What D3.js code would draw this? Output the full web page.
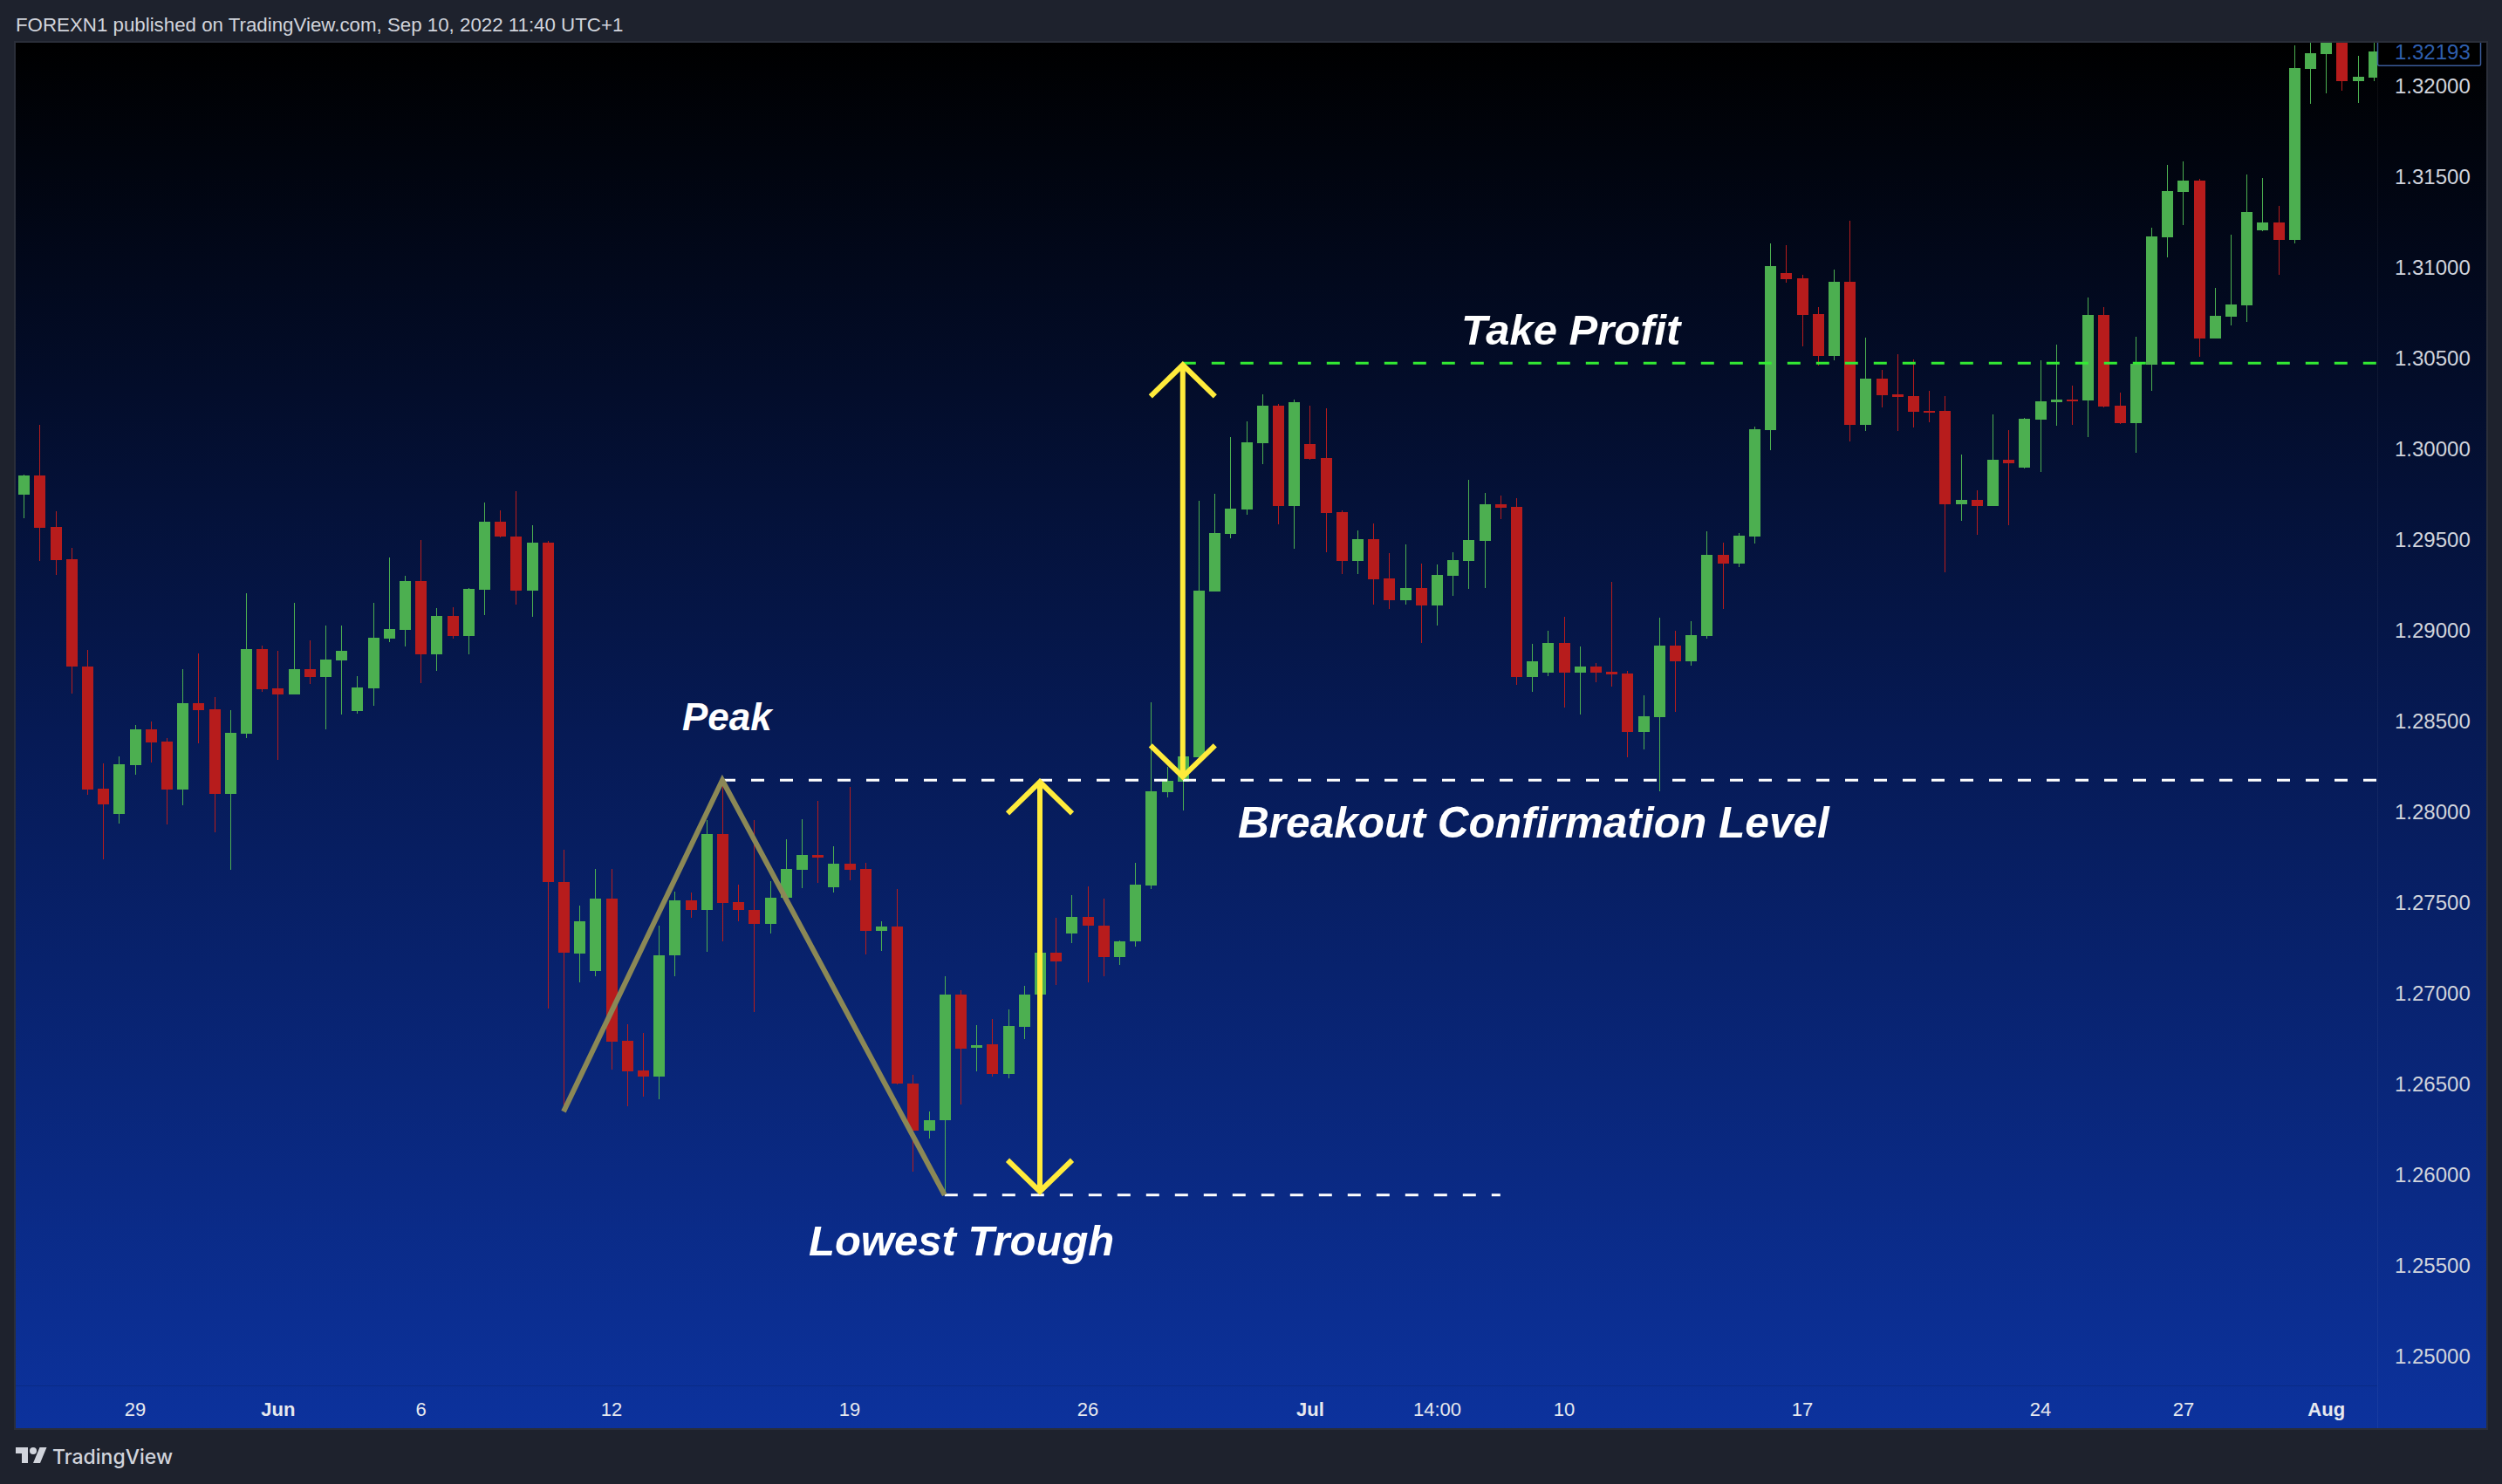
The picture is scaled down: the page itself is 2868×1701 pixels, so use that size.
<!DOCTYPE html>
<html><head><meta charset="utf-8">
<script src="https://cdnjs.cloudflare.com/ajax/libs/d3/7.8.5/d3.min.js"></script>
<style>html,body{margin:0;padding:0;background:#1e222d;overflow:hidden}</style>
</head><body>
<script>
// ---- DATA (GBPUSD-like 8H candles) ----
const opens = [1.29753,1.29858,1.29574,1.29396,1.28803,1.28132,1.27994,1.28262,1.28457,1.28391,
1.28128,1.28603,1.28568,1.28104,1.28435,1.28901,1.28684,1.28652,1.28790,1.28748,
1.28840,1.28557,1.28686,1.28960,1.29008,1.29276,1.28873,1.29083,1.28974,1.29228,
1.29602,1.29521,1.29225,1.29486,1.27618,1.27224,1.27125,1.27526,1.26742,1.26578,
1.26546,1.27211,1.27516,1.27461,1.27881,1.27506,1.27464,1.27388,1.27529,1.27683,
1.27766,1.27586,1.27717,1.27688,1.27349,1.27373,1.26505,1.26249,1.26302,1.26998,
1.26703,1.26724,1.26557,1.26820,1.26998,1.27227,1.27331,1.27425,1.27375,1.27201,
1.27289,1.27599,1.28114,1.28171,1.28306,1.29220,1.29536,1.29671,1.30036,1.30241,
1.29690,1.30030,1.29952,1.29656,1.29388,1.29506,1.29289,1.29171,1.29238,1.29139,
1.29306,1.29388,1.29499,1.29699,1.29685,1.28749,1.28773,1.28935,1.28773,1.28805,
1.28776,1.28766,1.28446,1.28527,1.28920,1.28835,1.28975,1.29420,1.29374,1.29523,
1.30108,1.30973,1.30944,1.30747,1.30518,1.30925,1.30136,1.30391,1.30305,1.30295,
1.30215,1.30213,1.29699,1.29723,1.29689,1.29944,1.29901,1.30165,1.30261,1.30276,
1.30272,1.30742,1.30242,1.30147,1.30469,1.31170,1.31420,1.31482,1.30613,1.30734,
1.30796,1.31210,1.31252,1.31157,1.32097,1.32179,1.32250,1.32032,1.32051];
const highs = [1.29863,1.30136,1.29661,1.29458,1.28895,1.28270,1.28308,1.28481,1.28502,1.28410,
1.28790,1.28877,1.28636,1.28564,1.29208,1.28919,1.28892,1.29155,1.28949,1.29030,
1.29030,1.28752,1.29155,1.29405,1.29304,1.29501,1.29127,1.29131,1.29238,1.29709,
1.29664,1.29771,1.29584,1.29495,1.27795,1.27487,1.27688,1.27688,1.26833,1.26784,
1.27375,1.27566,1.27560,1.27957,1.28178,1.27602,1.27957,1.27623,1.27852,1.27962,
1.28063,1.27813,1.28139,1.27722,1.27401,1.27579,1.26554,1.26354,1.27096,1.27023,
1.26828,1.26862,1.26914,1.27044,1.27300,1.27422,1.27545,1.27592,1.27524,1.27297,
1.27721,1.28605,1.28253,1.28330,1.29718,1.29757,1.30068,1.30156,1.30304,1.30250,
1.30277,1.30241,1.30228,1.29663,1.29555,1.29593,1.29430,1.29477,1.29371,1.29367,
1.29435,1.29834,1.29761,1.29747,1.29733,1.28930,1.29002,1.29079,1.28915,1.28824,
1.29271,1.28781,1.28646,1.29074,1.29002,1.29055,1.29550,1.29487,1.29540,1.30125,
1.31136,1.31127,1.30963,1.30785,1.30992,1.31261,1.30617,1.30439,1.30526,1.30497,
1.30324,1.30295,1.29973,1.29776,1.30194,1.30108,1.30175,1.30492,1.30579,1.30353,
1.30838,1.30785,1.30314,1.30621,1.31222,1.31569,1.31588,1.31490,1.30891,1.31184,
1.31516,1.31497,1.31343,1.32227,1.32290,1.32300,1.32300,1.32170,1.32260];
const lows = [1.29624,1.29388,1.29311,1.28656,1.28099,1.27744,1.27940,1.28209,1.28277,1.27935,
1.28042,1.28382,1.27893,1.27686,1.28411,1.28667,1.28292,1.28650,1.28710,1.28456,
1.28542,1.28546,1.28590,1.28941,1.28917,1.28715,1.28778,1.28960,1.28873,1.29090,
1.29517,1.29147,1.29076,1.26919,1.26367,1.27065,1.27096,1.26583,1.26380,1.26432,
1.26419,1.27096,1.27422,1.27232,1.27292,1.27401,1.26901,1.27331,1.27520,1.27581,
1.27610,1.27560,1.27628,1.27219,1.27235,1.26500,1.26023,1.26205,1.25892,1.26393,
1.26575,1.26544,1.26536,1.26750,1.26950,1.27050,1.27279,1.27065,1.27096,1.27162,
1.27260,1.27576,1.28082,1.28013,1.28300,1.29220,1.29513,1.29639,1.29922,1.29589,
1.29454,1.29945,1.29435,1.29316,1.29316,1.29148,1.29124,1.29148,1.28932,1.29032,
1.29196,1.29234,1.29239,1.29619,1.28701,1.28667,1.28753,1.28576,1.28542,1.28720,
1.28696,1.28306,1.28350,1.28116,1.28552,1.28811,1.28960,1.29124,1.29354,1.29484,
1.29999,1.30922,1.30571,1.30463,1.30492,1.30045,1.30103,1.30233,1.30103,1.30122,
1.30151,1.29324,1.29608,1.29531,1.29689,1.29584,1.29896,1.29877,1.30131,1.30136,
1.30070,1.30230,1.30140,1.29984,1.30325,1.31059,1.31237,1.30513,1.30610,1.30686,
1.30705,1.31205,1.30965,1.31138,1.31907,1.31964,1.31979,1.31912,1.32032];
const closes = [1.29858,1.29571,1.29392,1.28802,1.28128,1.28047,1.28266,1.28457,1.28388,1.28128,
1.28603,1.28566,1.28104,1.28439,1.28901,1.28680,1.28652,1.28790,1.28748,1.28842,
1.28890,1.28689,1.28963,1.29011,1.29276,1.28873,1.29083,1.28974,1.29232,1.29602,
1.29519,1.29225,1.29488,1.27615,1.27227,1.27401,1.27526,1.26739,1.26575,1.26546,
1.27214,1.27516,1.27461,1.27881,1.27503,1.27461,1.27388,1.27529,1.27688,1.27766,
1.27753,1.27717,1.27683,1.27349,1.27373,1.26505,1.26249,1.26302,1.26998,1.26700,
1.26719,1.26557,1.26823,1.26998,1.27227,1.27177,1.27425,1.27375,1.27201,1.27289,
1.27603,1.28116,1.28175,1.28310,1.29222,1.29540,1.29675,1.30040,1.30241,1.29690,
1.30260,1.29950,1.29652,1.29388,1.29506,1.29287,1.29171,1.29238,1.29139,1.29310,
1.29391,1.29502,1.29699,1.29681,1.28749,1.28834,1.28935,1.28773,1.28805,1.28773,
1.28763,1.28446,1.28531,1.28920,1.28835,1.28978,1.29420,1.29374,1.29526,1.30112,
1.31011,1.30941,1.30742,1.30518,1.30925,1.30136,1.30391,1.30300,1.30290,1.30209,
1.30209,1.29699,1.29723,1.29689,1.29944,1.29925,1.30170,1.30266,1.30276,1.30271,
1.30742,1.30238,1.30147,1.30472,1.31174,1.31424,1.31482,1.30613,1.30737,1.30799,
1.31309,1.31252,1.31157,1.32102,1.32184,1.32270,1.32032,1.32054,1.32193];

const priceTicks = [1.25,1.255,1.26,1.265,1.27,1.275,1.28,1.285,1.29,1.295,1.30,1.305,1.31,1.315,1.32];
const timeTickIdx = [7,16,25,37,52,67,81,89,97,112,127,136,145];
const timeTickLabels = ["29","Jun","6","12","19","26","Jul","14:00","10","17","24","27","Aug"];
const monthLabels = ["Jun","Jul","Aug"];
const lastPrice = 1.32193;

// pattern annotation points (candle index, price)
const zigzagIdx = [34, 44, 58];
const zigzagPrice = [1.26352, 1.28178, 1.25892];
const breakoutLevel = 1.28178;
const troughLevel = 1.25892;
const takeProfitLevel = 1.30476;
const arrowIdx = [64, 73];
const arrowFrom = [1.28178, 1.30476];
const arrowTo = [1.25892, 1.28178];

// ---- LAYOUT ----
const W = 2868, H = 1701;
const panel = {x0: 18, y0: 49, x1: 2850, y1: 1637};
const plotRight = 2725, plotBottom = 1588;

const svg = d3.select("body").append("svg").attr("width", W).attr("height", H)
  .style("display","block");

const defs = svg.append("defs");
const grad = defs.append("linearGradient").attr("id","bg").attr("x1",0).attr("y1",0).attr("x2",0).attr("y2",1);
grad.append("stop").attr("offset","0%").attr("stop-color","#000000");
grad.append("stop").attr("offset","50%").attr("stop-color","#061a55");
grad.append("stop").attr("offset","100%").attr("stop-color","#0c329d");
defs.append("clipPath").attr("id","plotClip").append("rect")
  .attr("x", panel.x0).attr("y", panel.y0).attr("width", plotRight - panel.x0).attr("height", plotBottom - panel.y0);
defs.append("clipPath").attr("id","panelClip").append("rect")
  .attr("x", panel.x0).attr("y", panel.y0).attr("width", panel.x1 - panel.x0).attr("height", panel.y1 - panel.y0);

svg.append("rect").attr("width", W).attr("height", H).attr("fill", "#1e222d");
svg.append("rect").attr("x", panel.x0).attr("y", panel.y0)
  .attr("width", panel.x1 - panel.x0).attr("height", panel.y1 - panel.y0)
  .attr("fill", "url(#bg)");

// separators
svg.append("line").attr("x1", plotRight + 0.5).attr("x2", plotRight + 0.5).attr("y1", panel.y0).attr("y2", panel.y1)
  .attr("stroke", "rgba(255,255,255,0.05)").attr("stroke-width", 1);
svg.append("line").attr("x1", panel.x0).attr("x2", plotRight).attr("y1", plotBottom + 0.5).attr("y2", plotBottom + 0.5)
  .attr("stroke", "rgba(0,0,0,0.12)").attr("stroke-width", 1);

// scales
const x = d3.scaleLinear().domain([0, 148]).range([27.2, 2720.8]);
const y = d3.scaleLinear().domain([1.25, 1.32]).range([1555.3, 99.3]);

const candles = opens.map((o, i) => ({i, o, h: highs[i], l: lows[i], c: closes[i]}));
const green = "#4caf50", red = "#b71c1c";
const bodyW = 13;

const plot = svg.append("g").attr("clip-path", "url(#plotClip)");
const cg = plot.append("g").attr("shape-rendering", "crispEdges");
cg.selectAll("rect.wick").data(candles).join("rect").attr("class","wick")
  .attr("x", d => Math.round(x(d.i)))
  .attr("width", 1)
  .attr("y", d => y(d.h))
  .attr("height", d => Math.max(1, y(d.l) - y(d.h)))
  .attr("fill", d => d.c >= d.o ? green : red);
cg.selectAll("rect.body").data(candles).join("rect").attr("class","body")
  .attr("x", d => Math.round(x(d.i)) - 6)
  .attr("width", bodyW)
  .attr("y", d => y(Math.max(d.o, d.c)))
  .attr("height", d => Math.max(2, Math.abs(y(d.o) - y(d.c))))
  .attr("fill", d => d.c >= d.o ? green : red);

// dashed levels
const dash = "15,18";
plot.append("line").attr("x1", x(zigzagIdx[1])).attr("x2", plotRight)
  .attr("y1", y(breakoutLevel)).attr("y2", y(breakoutLevel))
  .attr("stroke", "#ffffff").attr("stroke-width", 3).attr("stroke-dasharray", dash);
plot.append("line").attr("x1", x(zigzagIdx[2])).attr("x2", x(93))
  .attr("y1", y(troughLevel)).attr("y2", y(troughLevel))
  .attr("stroke", "#ffffff").attr("stroke-width", 3).attr("stroke-dasharray", dash);
plot.append("line").attr("x1", x(arrowIdx[1])).attr("x2", plotRight)
  .attr("y1", y(takeProfitLevel)).attr("y2", y(takeProfitLevel))
  .attr("stroke", "#33ea33").attr("stroke-width", 3).attr("stroke-dasharray", dash);

// zigzag
const zz = zigzagIdx.map((d, k) => [x(d), y(zigzagPrice[k])]);
plot.append("path").attr("d", d3.line()(zz)).attr("fill","none")
  .attr("stroke", "#8b8856").attr("stroke-width", 6).attr("stroke-linejoin","miter");

// arrows
const yellow = "#ffeb3b";
arrowIdx.forEach((ai, k) => {
  const ax = x(ai), yt = y(arrowFrom[k]) + 2, yb = y(arrowTo[k]) - 4;
  const g = plot.append("g").attr("stroke", yellow).attr("stroke-width", 6).attr("fill","none");
  g.append("line").attr("x1", ax).attr("x2", ax).attr("y1", yt).attr("y2", yb);
  g.append("path").attr("d", `M${ax-37},${yt+36}L${ax},${yt}L${ax+37},${yt+36}`);
  g.append("path").attr("d", `M${ax-37},${yb-36}L${ax},${yb}L${ax+37},${yb-36}`);
});

// annotation texts
const annFont = "'Liberation Sans', Arial, sans-serif";
function ann(txt, xi, price, size) {
  svg.append("text").attr("x", x(xi)).attr("y", y(price))
    .attr("fill", "#ffffff").attr("font-family", annFont).attr("font-weight", "bold")
    .attr("font-style", "italic").attr("font-size", size).text(txt);
}
ann("Peak", 41.47, 1.28453, 44);
ann("Lowest Trough", 49.44, 1.25560, 49);
ann("Breakout Confirmation Level", 76.47, 1.27862, 49.6);
ann("Take Profit", 90.54, 1.30577, 49);

// price axis
const yAxis = d3.axisRight(y).tickValues(priceTicks).tickFormat(d3.format(".5f")).tickSize(0).tickPadding(20);
const ya = svg.append("g").attr("transform", `translate(${plotRight},0)`).call(yAxis);
ya.select(".domain").remove();
ya.selectAll("text").attr("fill", "#d1d4dc").attr("font-size", 24)
  .attr("font-family", "'Liberation Sans', Arial, sans-serif");

// last price label
const lp = svg.append("g").attr("clip-path", "url(#panelClip)");
lp.append("rect").attr("x", plotRight + 0.5).attr("y", y(lastPrice) - 16).attr("width", 118).attr("height", 32)
  .attr("fill", "#000000").attr("stroke", "#3a5b9a").attr("stroke-width", 1.5).attr("rx", 2);
lp.append("text").attr("x", plotRight + 20).attr("y", y(lastPrice)).attr("dy", "0.35em")
  .attr("fill", "#2f5fae").attr("font-size", 24)
  .attr("font-family", "'Liberation Sans', Arial, sans-serif").text(d3.format(".5f")(lastPrice));

// time axis
const xAxis = d3.axisBottom(x).tickValues(timeTickIdx).tickFormat((d, k) => timeTickLabels[k]).tickSize(0).tickPadding(19);
const xa = svg.append("g").attr("transform", `translate(0,${plotBottom})`).call(xAxis);
xa.select(".domain").remove();
xa.selectAll("text").attr("fill", "#e6e8ee").attr("font-size", 22)
  .attr("font-family", "'Liberation Sans', Arial, sans-serif")
  .attr("font-weight", (d, k) => monthLabels.includes(timeTickLabels[k]) ? "bold" : "normal");

// panel border
svg.append("rect").attr("x", panel.x0 - 1).attr("y", panel.y0 - 1)
  .attr("width", panel.x1 - panel.x0 + 2).attr("height", panel.y1 - panel.y0 + 2)
  .attr("fill", "none").attr("stroke", "#2a2e39").attr("stroke-width", 2);

// header
svg.append("text").attr("x", 18).attr("y", 36).attr("fill", "#d1d4dc").attr("font-size", 22.3)
  .attr("font-family", "'Liberation Sans', Arial, sans-serif")
  .text("FOREXN1 published on TradingView.com, Sep 10, 2022 11:40 UTC+1");

// footer logo
const logo = svg.append("g").attr("transform", "translate(18,1655)").attr("fill", "#d1d4dc");
logo.append("path").attr("d", "M14 22H7V11H0V4h14v18zM28 22h-8l7.5-18h8L28 22z");
logo.append("circle").attr("cx", 20).attr("cy", 8).attr("r", 4);
svg.append("text").attr("x", 60).attr("y", 1678).attr("fill", "#d1d4dc").attr("font-size", 23)
  .attr("font-family", "Inter, 'Liberation Sans', sans-serif").attr("font-weight", 500)
  .text("TradingView");
</script>
</body></html>
